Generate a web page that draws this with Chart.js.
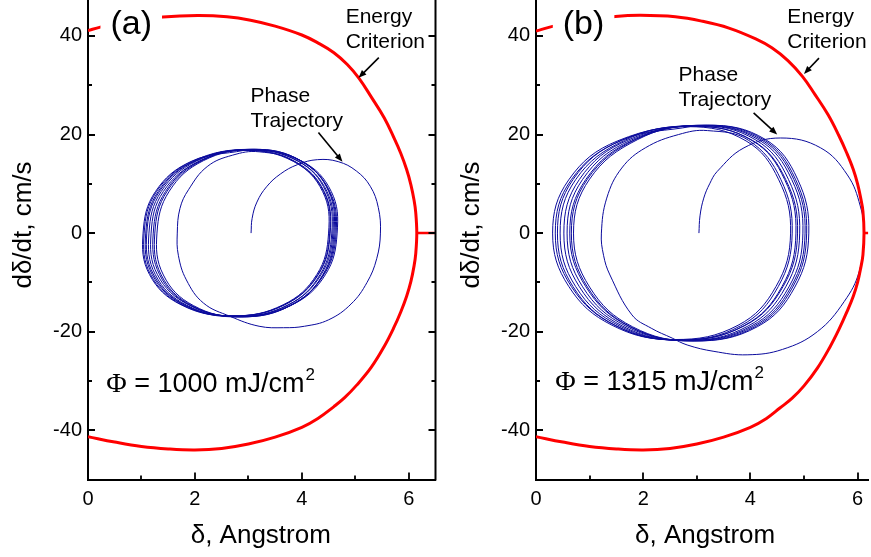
<!DOCTYPE html>
<html>
<head>
<meta charset="utf-8">
<script src="https://cdn.jsdelivr.net/npm/chart.js@4.4.1/dist/chart.umd.min.js"></script>
<style>
  html, body { margin: 0; padding: 0; background: #fff; }
  #wrap { position: relative; width: 871px; height: 557px; overflow: hidden; }
  canvas { position: absolute; top: 0; }
</style>
</head>
<body>
<div id="wrap">
  <canvas id="panel-a" width="440" height="557" style="left:0"></canvas>
  <canvas id="panel-b" width="431" height="557" style="left:440px"></canvas>
</div>
<script>
// --- AXIS TICKS ---
const xTicks = [0, 2, 4, 6];
const xMinor = [1, 3, 5];
const yTicks = [-40, -20, 0, 20, 40];
const yMinor = [-30, -10, 10, 30];

// --- ENERGY CRITERION (delta in Angstrom, velocity in cm/s), upper branch then lower branch ---
const energyA = [
  [0, 41.1], [0.23, 41.8], [0.7, 42.9], [1.4, 43.85], [2.05, 44.15], [2.6, 43.9], [3.04, 43.2], [3.5, 42.0],
  [4.0, 40.2], [4.3, 38.6], [4.6, 36.6], [4.85, 34.2], [5.07, 31.4], [5.3, 27.6], [5.54, 23.4], [5.72, 19.4],
  [5.85, 16.2], [5.96, 12.9], [6.04, 9.8], [6.1, 6.6], [6.13, 4.2], [6.15, 0],
  [6.13, -4.2], [6.1, -6.6], [6.04, -9.8], [5.96, -12.8], [5.85, -16.0], [5.72, -19.2], [5.54, -23.0],
  [5.3, -27.2], [5.03, -30.8], [4.8, -33.4], [4.6, -35.2], [4.3, -37.6], [4.0, -39.4], [3.5, -41.4],
  [3.0, -42.8], [2.5, -43.7], [2.0, -44.0], [1.5, -43.8], [1.0, -43.3], [0.5, -42.4], [0, -41.3]
];
const energyStubA = [[6.15, 0], [6.5, 0]];

const energyB = [
  [0, 41.0], [0.29, 41.9], [0.8, 43.0], [1.48, 43.95], [1.95, 44.2], [2.6, 43.9], [3.1, 43.0], [3.6, 41.6],
  [4.1, 39.4], [4.4, 37.6], [4.7, 35.0], [4.97, 31.8], [5.2, 28.2], [5.45, 24.0], [5.65, 19.8], [5.8, 16.2],
  [5.92, 12.9], [6.0, 10.0], [6.06, 7.0], [6.1, 4.4], [6.12, 0],
  [6.1, -4.4], [6.06, -7.0], [6.0, -10.0], [5.92, -12.8], [5.8, -16.0], [5.65, -19.6], [5.48, -23.2],
  [5.25, -27.4], [5.0, -31.0], [4.78, -33.5], [4.55, -35.5], [4.3, -37.6], [4.0, -39.4], [3.5, -41.4],
  [3.0, -42.8], [2.5, -43.7], [2.0, -44.0], [1.5, -43.8], [1.0, -43.3], [0.5, -42.4], [0, -41.3]
];
const energyStubB = [[6.12, 0], [6.2, 0]];

// --- PHASE TRAJECTORIES, in time order ---
const trajectoryA = [
  [3.05, 0], [3.07, 3.0], [3.16, 6.3], [3.34, 9.4], [3.60, 12.0], [3.92, 13.9], [4.29, 14.9], [4.68, 14.5],
  [5.02, 12.6], [5.28, 9.5], [5.43, 5.2], [5.47, 0], [5.40, -5.2], [5.22, -10.0], [4.92, -14.4], [4.50, -17.6],
  [4.05, -18.9], [3.66, -19.2], [3.20, -18.9], [2.66, -16.9], [2.16, -14.2], [1.84, -9.5], [1.69, -4.5],
  [1.67, 0], [1.72, 5.0], [1.88, 8.8], [2.23, 13.5], [2.70, 15.8], [3.20, 16.5],
  [3.86, 14.55], [4.41, 8.4], [4.52, 0], [4.30, -8.4], [3.67, -14.55], [2.71, -16.8], [1.76, -14.55], [1.17, -8.4], [1.05, 0], [1.28, 8.4], [1.95, 14.55],
  [3.02, 17.0], [3.96, 14.7], [4.52, 8.5], [4.64, 0], [4.41, -8.5], [3.77, -14.7], [2.79, -17.0], [1.83, -14.7], [1.23, -8.5], [1.10, 0], [1.34, 8.5], [2.02, 14.7],
  [3.04, 16.9], [3.93, 14.6], [4.45, 8.45], [4.56, 0], [4.34, -8.45], [3.74, -14.6], [2.81, -16.9], [1.90, -14.6], [1.34, -8.45], [1.22, 0], [1.45, 8.45], [2.09, 14.6],
  [3.10, 17.0], [3.98, 14.7], [4.50, 8.5], [4.60, 0], [4.39, -8.5], [3.79, -14.7], [2.87, -17.0], [1.97, -14.7], [1.41, -8.5], [1.29, 0], [1.52, 8.5], [2.16, 14.7],
  [3.07, 16.9], [4.00, 14.6], [4.55, 8.45], [4.66, 0], [4.44, -8.45], [3.81, -14.6], [2.84, -16.9], [1.89, -14.6], [1.30, -8.45], [1.18, 0], [1.41, 8.45], [2.08, 14.6],
  [2.96, 16.8], [3.87, 14.55], [4.42, 8.4], [4.53, 0], [4.31, -8.4], [3.68, -14.55], [2.73, -16.8], [1.79, -14.55], [1.20, -8.4], [1.08, 0], [1.31, 8.4], [1.98, 14.55],
  [3.09, 17.0], [3.98, 14.7], [4.51, 8.5], [4.62, 0], [4.40, -8.5], [3.79, -14.7], [2.86, -17.0], [1.94, -14.7], [1.37, -8.5], [1.25, 0], [1.48, 8.5], [2.13, 14.7],
  [3.01, 16.9], [3.93, 14.6], [4.47, 8.45], [4.58, 0], [4.36, -8.45], [3.74, -14.6], [2.78, -16.9], [1.84, -14.6], [1.26, -8.45], [1.14, 0], [1.37, 8.45], [2.03, 14.6],
  [2.92, 16.8], [3.84, 14.55], [4.39, 8.4], [4.50, 0], [4.28, -8.4], [3.65, -14.55], [2.69, -16.8], [1.74, -14.55], [1.15, -8.4], [1.03, 0], [1.26, 8.4], [1.93, 14.55], [2.92, 16.8]
];
const trajectoryB = [
  [3.04, 0], [3.06, 3.5], [3.13, 7.1], [3.24, 10.0], [3.38, 12.5], [3.88, 17.3], [4.56, 19.3], [5.31, 17.3],
  [5.81, 11.8], [6.05, 5.5], [6.12, 0], [6.03, -7.8], [5.75, -13.9], [5.25, -20.0], [4.60, -23.6], [3.94, -24.7],
  [3.32, -24.0], [2.82, -22.7], [2.54, -21.3], [2.15, -19.3], [1.79, -16.6], [1.38, -8.5], [1.26, -4.5], [1.22, 0],
  [1.32, 7.1], [1.60, 13.2], [2.04, 17.3], [2.66, 20.0], [3.20, 20.8],
  [3.97, 18.8], [4.57, 10.85], [4.78, 0], [4.52, -10.85], [3.82, -18.8], [2.64, -21.7], [1.49, -18.8], [0.69, -10.85], [0.40, 0], [0.69, 10.85], [1.59, 18.8],
  [3.02, 21.8], [4.10, 18.9], [4.71, 10.9], [4.92, 0], [4.66, -10.9], [3.95, -18.9], [2.77, -21.8], [1.62, -18.9], [0.81, -10.9], [0.52, 0], [0.81, 10.9], [1.72, 18.9],
  [3.13, 21.8], [4.21, 18.9], [4.81, 10.9], [5.02, 0], [4.76, -10.9], [4.06, -18.9], [2.88, -21.8], [1.73, -18.9], [0.93, -10.9], [0.63, 0], [0.93, 10.9], [1.83, 18.9],
  [3.20, 21.9], [4.28, 19.0], [4.88, 10.95], [5.09, 0], [4.83, -10.95], [4.13, -19.0], [2.95, -21.9], [1.80, -19.0], [1.00, -10.95], [0.70, 0], [1.00, 10.95], [1.90, 19.0],
  [2.95, 21.7], [4.03, 18.8], [4.64, 10.85], [4.85, 0], [4.59, -10.85], [3.88, -18.8], [2.70, -21.7], [1.55, -18.8], [0.74, -10.85], [0.45, 0], [0.74, 10.85], [1.65, 18.8],
  [2.83, 21.6], [3.92, 18.7], [4.53, 10.8], [4.75, 0], [4.48, -10.8], [3.77, -18.7], [2.58, -21.6], [1.42, -18.7], [0.61, -10.8], [0.31, 0], [0.61, 10.8], [1.52, 18.7],
  [3.08, 21.8], [4.16, 18.9], [4.77, 10.9], [4.98, 0], [4.72, -10.9], [4.01, -18.9], [2.83, -21.8], [1.68, -18.9], [0.87, -10.9], [0.58, 0], [0.87, 10.9], [1.78, 18.9],
  [3.16, 21.9], [4.24, 19.0], [4.84, 10.95], [5.05, 0], [4.79, -10.95], [4.09, -19.0], [2.91, -21.9], [1.76, -19.0], [0.96, -10.95], [0.66, 0], [0.96, 10.95], [1.86, 19.0],
  [2.92, 21.7], [4.04, 18.8], [4.66, 10.85], [4.88, 0], [4.61, -10.85], [3.89, -18.8], [2.67, -21.7], [1.49, -18.8], [0.66, -10.85], [0.36, 0], [0.66, 10.85], [1.59, 18.8], [2.92, 21.7]
];

const SANS = "'Liberation Sans', Arial, sans-serif";
Chart.defaults.font.family = SANS;
Chart.defaults.color = '#000';

const RED = '#ff0000';
const BLUE = '#0a0a9c';

const toPts = arr => arr.map(([x, y]) => ({ x, y }));

function line(data, color, width, tension) {
  return { data: toPts(data), showLine: true, borderColor: color, borderWidth: width,
           pointRadius: 0, tension: tension, fill: false };
}

function arrow(ctx, x1, y1, x2, y2) {
  const ang = Math.atan2(y2 - y1, x2 - x1);
  const len = 8, half = 3.2;
  ctx.beginPath();
  ctx.moveTo(x1, y1);
  ctx.lineTo(x2 - Math.cos(ang) * len * 0.8, y2 - Math.sin(ang) * len * 0.8);
  ctx.lineWidth = 1.6;
  ctx.stroke();
  ctx.beginPath();
  ctx.moveTo(x2, y2);
  ctx.lineTo(x2 - Math.cos(ang) * len + Math.sin(ang) * half, y2 - Math.sin(ang) * len - Math.cos(ang) * half);
  ctx.lineTo(x2 - Math.cos(ang) * len - Math.sin(ang) * half, y2 - Math.sin(ang) * len + Math.cos(ang) * half);
  ctx.closePath();
  ctx.fill();
}

// axes ticks, titles and text notes
function decorPlugin(p) {
  return {
    id: 'decor',
    afterDatasetsDraw(chart) {
      const { ctx, chartArea: a, scales: { x, y } } = chart;
      ctx.save();
      // panel letter sits on a white patch over the red curve
      ctx.font = '34px ' + SANS;
      const lx = x.getPixelForValue(p.letter[0]), ly = y.getPixelForValue(p.letter[1]);
      const w = ctx.measureText(p.letter[2]).width;
      ctx.fillStyle = '#fff';
      ctx.fillRect(lx - 10, a.top, w + 20, ly + 10 - a.top);
      ctx.fillStyle = '#000';
      ctx.fillText(p.letter[2], lx, ly);
      ctx.restore();
    },
    afterDraw(chart) {
      const { ctx, chartArea: a, scales: { x, y } } = chart;
      ctx.save();
      ctx.strokeStyle = '#000';
      ctx.fillStyle = '#000';
      ctx.lineWidth = 2;

      // right frame line (panel a only)
      if (p.rightAxis) {
        ctx.beginPath();
        ctx.moveTo(a.right, a.top);
        ctx.lineTo(a.right, a.bottom + 1);
        ctx.stroke();
      }

      // inward tick marks
      ctx.lineWidth = 1.8;
      ctx.beginPath();
      const tickX = (v, len) => {
        const px = Math.round(x.getPixelForValue(v));
        ctx.moveTo(px, a.bottom); ctx.lineTo(px, a.bottom - len);
      };
      const tickY = (v, len) => {
        const py = Math.round(y.getPixelForValue(v));
        ctx.moveTo(a.left, py); ctx.lineTo(a.left + len, py);
        if (p.rightAxis) { ctx.moveTo(a.right, py); ctx.lineTo(a.right - len, py); }
      };
      xTicks.forEach(v => tickX(v, 7));
      xMinor.forEach(v => tickX(v, 4));
      yTicks.forEach(v => tickY(v, 7));
      yMinor.forEach(v => tickY(v, 4));
      ctx.stroke();

      // axis titles
      ctx.font = '26px ' + SANS;
      ctx.textAlign = 'center';
      ctx.textBaseline = 'alphabetic';
      ctx.fillText('\u03b4, Angstrom', (a.left + a.right) / 2 + p.xTitleShift, 543);
      ctx.save();
      ctx.translate(a.left - 57, 225);
      ctx.rotate(-Math.PI / 2);
      ctx.fillText('d\u03b4/dt, cm/s', 0, 0);
      ctx.restore();

      // notes with arrows
      ctx.textAlign = 'left';
      ctx.font = '21px ' + SANS;
      p.notes.forEach(n => {
        const nx = x.getPixelForValue(n.at[0]), ny = y.getPixelForValue(n.at[1]);
        n.lines.forEach((t, i) => ctx.fillText(t, nx, ny + i * 25));
        arrow(ctx, x.getPixelForValue(n.from[0]), y.getPixelForValue(n.from[1]),
                   x.getPixelForValue(n.to[0]), y.getPixelForValue(n.to[1]));
      });

      // fluence label
      const fx = x.getPixelForValue(p.fluence[0]), fy = y.getPixelForValue(p.fluence[1]);
      ctx.font = "28px 'Liberation Serif', serif";
      ctx.fillText('\u03a6', fx, fy);
      let cx = fx + ctx.measureText('\u03a6').width;
      ctx.font = '27px ' + SANS;
      const body = ' = ' + p.fluence[2] + ' mJ/cm';
      ctx.fillText(body, cx, fy);
      cx += ctx.measureText(body).width;
      ctx.font = '17px ' + SANS;
      ctx.fillText('2', cx + 1, fy - 12);
      ctx.restore();
    }
  };
}

function makePanel(id, p) {
  new Chart(document.getElementById(id), {
    type: 'scatter',
    data: {
      datasets: [
        line(p.energy, RED, 3, 0.4),
        line(p.stub, RED, 2.5, 0),
        line(p.trajectory, BLUE, 1, 0.4)
      ]
    },
    options: {
      responsive: false,
      animation: false,
      events: [],
      layout: { padding: { left: 0, top: 0, right: p.padRight, bottom: 0 } },
      plugins: { legend: { display: false }, tooltip: { enabled: false } },
      scales: {
        x: {
          type: 'linear', min: 0, max: p.xMax,
          afterBuildTicks: s => { s.ticks = xTicks.map(v => ({ value: v })); },
          afterFit: s => { s.height = 77.5; s.paddingLeft = 0; s.paddingRight = 0; },
          grid: { display: false, drawTicks: false },
          border: { display: true, color: '#000', width: 2 },
          ticks: { font: { size: 20 }, padding: 8, maxRotation: 0, autoSkip: false }
        },
        y: {
          type: 'linear', min: -50, max: 47.3,
          afterBuildTicks: s => { s.ticks = yTicks.map(v => ({ value: v })); },
          afterFit: s => { s.width = p.yWidth; s.paddingTop = 0; s.paddingBottom = 0; },
          grid: { display: false, drawTicks: false },
          border: { display: true, color: '#000', width: 2 },
          ticks: { font: { size: 20 }, padding: 6, autoSkip: false }
        }
      }
    },
    plugins: [decorPlugin(p)]
  });
}

makePanel('panel-a', {
  xMax: 6.5, yWidth: 88, padRight: 4.5, rightAxis: true, xTitleShift: -1,
  energy: energyA, stub: energyStubA, trajectory: trajectoryA,
  letter: [0.42, 40.4, '(a)'],
  fluence: [0.34, -32.2, '1000'],
  notes: [
    { lines: ['Energy', 'Criterion'], at: [4.82, 42.7], from: [5.44, 35.6], to: [5.06, 31.5] },
    { lines: ['Phase', 'Trajectory'], at: [3.04, 26.6], from: [4.31, 20.4], to: [4.76, 14.5] }
  ]
});

makePanel('panel-b', {
  xMax: 6.2, yWidth: 96, padRight: 2.7, rightAxis: false, xTitleShift: 3,
  energy: energyB, stub: energyStubB, trajectory: trajectoryB,
  letter: [0.5, 40.5, '(b)'],
  fluence: [0.36, -31.8, '1315'],
  notes: [
    { lines: ['Energy', 'Criterion'], at: [4.69, 42.7], from: [5.28, 35.5], to: [5.0, 32.3] },
    { lines: ['Phase', 'Trajectory'], at: [2.66, 30.8], from: [4.06, 24.4], to: [4.5, 20.0] }
  ]
});
</script>
</body>
</html>
